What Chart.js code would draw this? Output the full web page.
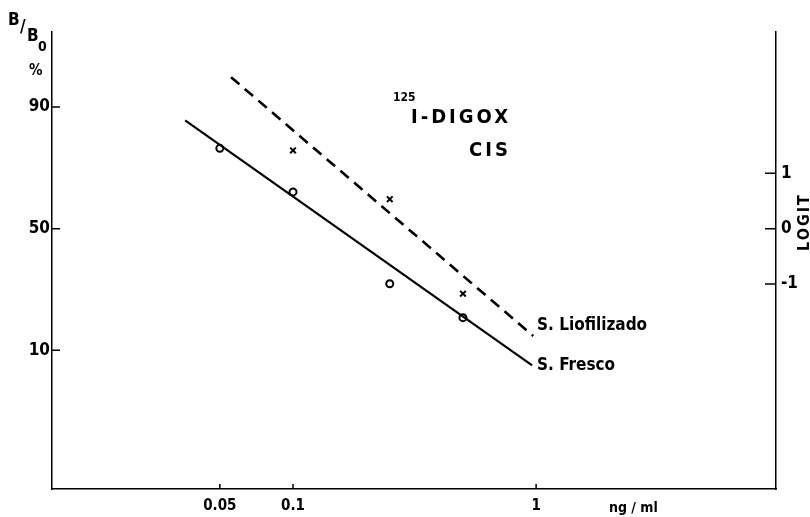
<!DOCTYPE html>
<html>
<head>
<meta charset="utf-8">
<script src="https://cdn.jsdelivr.net/npm/chart.js@4.4.1/dist/chart.umd.min.js"></script>
<style>
  html, body { margin: 0; padding: 0; background: #fff; }
  #wrap { width: 810px; height: 517px; position: relative; }
</style>
</head>
<body>
<div id="wrap"><canvas id="chart"></canvas></div>
<script>
// dose in ng/ml, binding B/B0 in %
const frescoDose = [0.05, 0.1, 0.25, 0.5];
const frescoPct = [81, 66, 27, 16.7];
const liofDose = [0.1, 0.25, 0.5];
const liofPct = [80.4, 63, 23.6];

// fitted lines as drawn (end points)
const frescoLineDose = [0.036, 0.963];
const frescoLinePct = [87.6, 7.8];
const liofLineDose = [0.0556, 0.973];
const liofLinePct = [93.9, 12.6];

const xTicks = [0.05, 0.1, 1];
const xTickLabels = ["0.05", "0.1", "1"];
const pctTicks = [90, 50, 10];
const logitTicks = [-1, 0, 1];

const FONT = '"DejaVu Sans Condensed", "DejaVu Sans", sans-serif';

function logit(pct) {
    const p = pct / 100;
    return Math.log(p / (1 - p));
}

function toPoints(doses, pcts) {
    return doses.map((d, i) => ({ x: d, y: logit(pcts[i]) }));
}

const annotations = {
    id: "annotations",
    afterDraw(chart) {
        const { ctx, chartArea: a } = chart;
        const xs = chart.scales.x, yl = chart.scales.y, yr = chart.scales.yR;
        ctx.save();
        ctx.strokeStyle = "#000";
        ctx.lineWidth = 1.5;
        ctx.beginPath();
        yl.ticks.forEach((t) => {
            const py = yl.getPixelForValue(t.value);
            ctx.moveTo(a.left, py);
            ctx.lineTo(a.left + 8, py);
        });
        yr.ticks.forEach((t) => {
            const py = yr.getPixelForValue(t.value);
            ctx.moveTo(a.right - 11, py);
            ctx.lineTo(a.right, py);
        });
        xs.ticks.forEach((t) => {
            const px = xs.getPixelForValue(t.value);
            ctx.moveTo(px, a.bottom);
            ctx.lineTo(px, a.bottom - 5);
        });
        ctx.stroke();

        ctx.fillStyle = "#000";
        ctx.textBaseline = "middle";
        ctx.textAlign = "left";

        // left axis title
        ctx.font = "bold 17px " + FONT;
        ctx.fillText("B", 8, 21);
        ctx.fillText("/", 20, 28);
        ctx.fillText("B", 27, 37);
        ctx.font = "bold 14px " + FONT;
        ctx.fillText("0", 38, 47);
        ctx.font = "bold 15px " + FONT;
        ctx.fillText("%", 29, 71);

        // title
        ctx.font = "bold 12px " + FONT;
        ctx.fillText("125", 393, 98);
        ctx.font = "bold 20px " + FONT;
        ctx.letterSpacing = "3px";
        ctx.fillText("I-DIGOX", 411, 118);
        ctx.fillText("CIS", 469, 151);
        ctx.letterSpacing = "0px";

        // series labels
        ctx.font = "bold 17px " + FONT;
        ctx.fillText("S. Liofilizado", 537, 326);
        ctx.fillText("S. Fresco", 537, 366);

        // x unit
        ctx.font = "bold 14px " + FONT;
        ctx.fillText("ng / ml", 609, 508);

        // right axis title
        ctx.translate(805, 222);
        ctx.rotate(-Math.PI / 2);
        ctx.textAlign = "center";
        ctx.font = "bold 16px " + FONT;
        ctx.letterSpacing = "2px";
        ctx.fillText("LOGIT", 0, 0);
        ctx.restore();
    },
};

const tickFont = { family: FONT, size: 17, weight: "bold" };

new Chart(document.getElementById("chart"), {
    type: "scatter",
    data: {
        datasets: [
            {
                type: "line",
                label: "S. Fresco",
                data: toPoints(frescoLineDose, frescoLinePct),
                borderColor: "#000",
                borderWidth: 2.2,
                pointRadius: 0,
            },
            {
                type: "line",
                label: "S. Liofilizado",
                data: toPoints(liofLineDose, liofLinePct),
                borderColor: "#000",
                borderWidth: 2.6,
                borderDash: [11, 7],
                pointRadius: 0,
            },
            {
                label: "Fresco points",
                data: toPoints(frescoDose, frescoPct),
                pointStyle: "circle",
                pointRadius: 3.5,
                borderWidth: 2,
                borderColor: "#000",
                backgroundColor: "#fff",
            },
            {
                label: "Liofilizado points",
                data: toPoints(liofDose, liofPct),
                pointStyle: "crossRot",
                pointRadius: 4,
                borderWidth: 2,
                borderColor: "#000",
            },
        ],
    },
    options: {
        responsive: true,
        maintainAspectRatio: false,
        animation: false,
        events: [],
        layout: { padding: { top: 32, left: 0, right: 0, bottom: 0 } },
        plugins: { legend: { display: false }, tooltip: { enabled: false } },
        scales: {
            x: {
                type: "logarithmic",
                position: "bottom",
                min: 0.0102,
                max: 9.7,
                afterFit: (s) => { s.height = 28; },
                afterBuildTicks: (s) => { s.ticks = xTicks.map((v) => ({ value: v })); },
                grid: { display: false, drawTicks: false },
                border: { display: true, color: "#000", width: 1.5 },
                ticks: {
                    autoSkip: false,
                    maxRotation: 0,
                    padding: 8,
                    color: "#000",
                    font: { family: FONT, size: 15, weight: "bold" },
                    callback: (v, i) => xTickLabels[i],
                },
            },
            y: {
                type: "linear",
                position: "left",
                min: -4.7,
                max: 3.55,
                afterFit: (s) => { s.width = 52; },
                afterBuildTicks: (s) => { s.ticks = pctTicks.map((p) => ({ value: logit(p) })); },
                grid: { display: false, drawTicks: false },
                border: { display: true, color: "#000", width: 1.5 },
                ticks: {
                    padding: 2,
                    color: "#000",
                    font: tickFont,
                    callback: (v, i) => pctTicks[i],
                },
            },
            yR: {
                type: "linear",
                position: "right",
                min: -4.7,
                max: 3.55,
                afterFit: (s) => { s.width = 34; },
                afterBuildTicks: (s) => { s.ticks = logitTicks.map((v) => ({ value: v })); },
                grid: { display: false, drawTicks: false },
                border: { display: true, color: "#000", width: 1.5 },
                ticks: {
                    padding: 5,
                    color: "#000",
                    font: tickFont,
                    callback: (v, i) => String(logitTicks[i]),
                },
            },
        },
    },
    plugins: [annotations],
});
</script>
</body>
</html>
